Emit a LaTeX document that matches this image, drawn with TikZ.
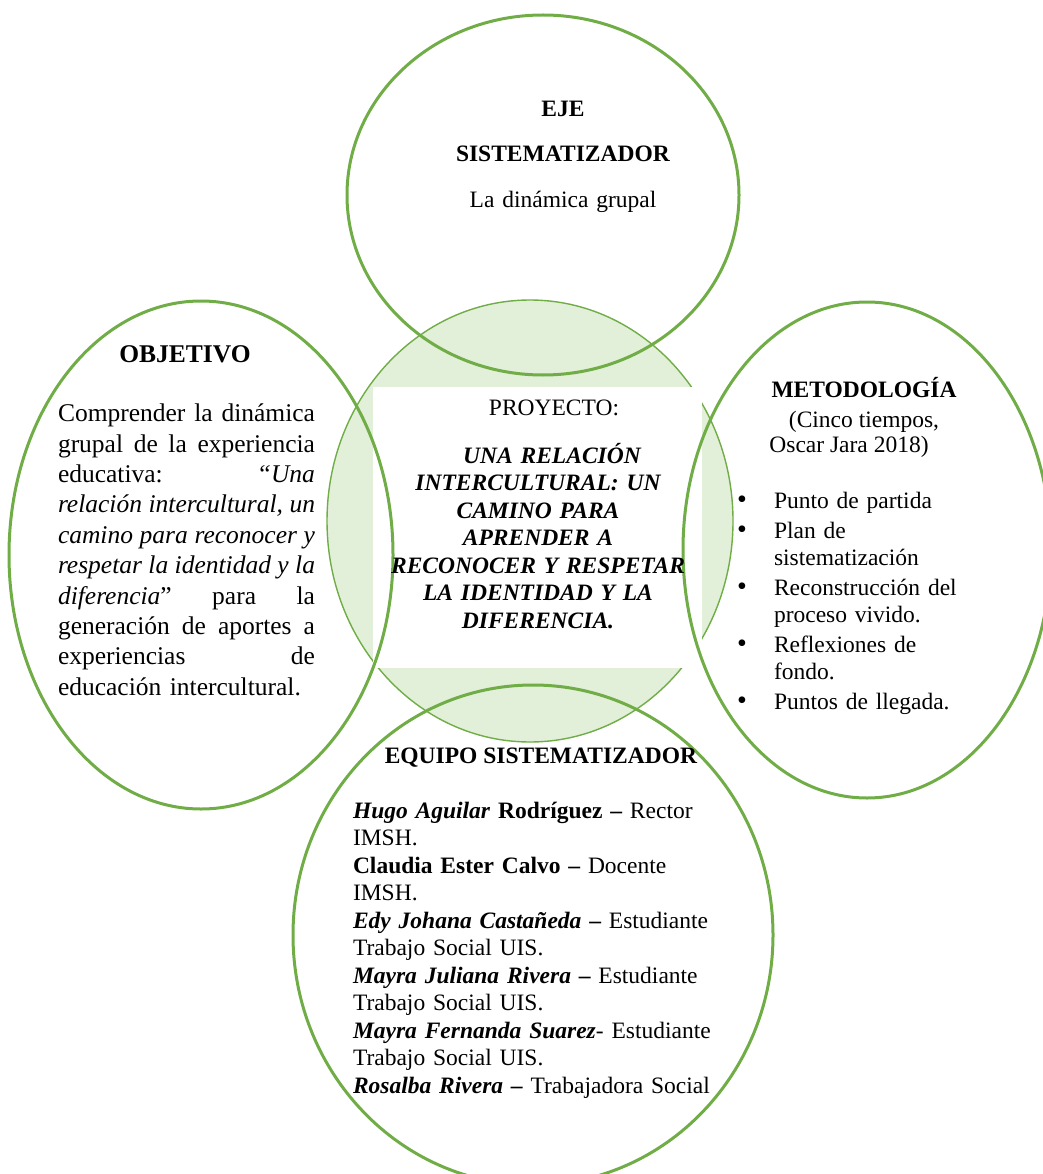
\documentclass[tikz,border=0pt]{standalone}
\usepackage{fontspec}
\setmainfont{Liberation Serif}
\usetikzlibrary{shapes.geometric}
\definecolor{lgreen}{HTML}{70AD47}
\definecolor{pgreen}{HTML}{E2EFD9}
\newcommand{\jl}[1]{\leavevmode\hbox to 257pt{#1}}
\newcommand{\gp}{\hskip 0pt plus 1fill\relax}
\newcommand{\bul}{\makebox[37pt][l]{\smash{\fontsize{28}{28}\selectfont\textbullet}}}
\begin{document}
\begin{tikzpicture}[x=1pt,y=-1pt,
  ring/.style={ellipse, draw=lgreen, line width=3pt, inner sep=0pt, outer sep=0pt},
  core/.style={ellipse, draw=lgreen, line width=1.4pt, fill=pgreen, inner sep=0pt},
  txt/.style={font=\fontsize{23.5}{27.5}\selectfont, inner sep=0pt, outer sep=0pt},
  bigtxt/.style={font=\fontsize{25.5}{30.4}\selectfont, inner sep=0pt, outer sep=0pt}]
\useasboundingbox (0,0) rectangle (1042,1174);
% central circle and white panel
\node[core, minimum width=406pt, minimum height=442pt] (core) at (530,521) {};
\node[fill=white, inner sep=0pt, minimum width=329pt, minimum height=281pt] (panel) at (537.5,527.5) {};
% outer rings
\node[ring, minimum width=392pt, minimum height=360pt] (eje) at (543,195) {};
\node[ring, minimum width=384pt, minimum height=508pt] (obj) at (201,555) {};
\node[ring, minimum width=368pt, minimum height=496pt] (met) at (867,550) {};
\node[ring, minimum width=480pt, minimum height=500pt] (equ) at (533,935) {};
% EJE SISTEMATIZADOR
\node[txt, text width=320pt, align=center, anchor=base] (ejeT) at (563,117)
  {\textbf{EJE}\\[17.5pt]\textbf{SISTEMATIZADOR}\\[18.5pt]La dinámica grupal};
% OBJETIVO
\node[bigtxt, anchor=base] (objH) at (185,362) {\textbf{OBJETIVO}};
\node[bigtxt, text width=257pt, align=left, anchor=base west] (objT) at (58,421.7)
  {\jl{Comprender\gp la\gp dinámica}\\
   \jl{grupal\gp de\gp la\gp experiencia}\\
   \jl{educativa:\gp \textit{“Una}}\\
   \jl{\itshape relación\gp intercultural,\gp un}\\
   \jl{\itshape camino\gp para\gp reconocer\gp y}\\
   \jl{\itshape respetar\gp la\gp identidad\gp y\gp la}\\
   \jl{\textit{diferencia}”\gp para\gp la}\\
   \jl{generación\gp de\gp aportes\gp a}\\
   \jl{experiencias\gp de}\\
   educación intercultural.};
% PROYECTO
\node[txt, anchor=base] (projH) at (554,415) {PROYECTO:};
\node[txt, text width=340pt, align=center, anchor=base] (projT) at (538,463)
  {\bfseries\itshape \hspace*{28pt}UNA RELACIÓN\\INTERCULTURAL: UN\\CAMINO PARA\\APRENDER A\\RECONOCER Y RESPETAR\\LA IDENTIDAD Y LA\\DIFERENCIA.};
% METODOLOGIA
\node[txt, anchor=base] (metH) at (864,397) {\textbf{METODOLOGÍA}};
\node[txt, anchor=base] (metS1) at (864,427) {(Cinco tiempos,};
\node[txt, anchor=base] (metS2) at (849,452) {Oscar Jara 2018)};
\node[txt, font=\fontsize{23.5}{26.5}\selectfont, text width=280pt, align=left, anchor=base west] (metL) at (737,508)
  {\bul Punto de partida\\[4pt]
   \bul Plan de\\
   \hspace*{37pt}sistematización\\[4pt]
   \bul Reconstrucción del\\
   \hspace*{37pt}proceso vivido.\\[4pt]
   \bul Reflexiones de\\
   \hspace*{37pt}fondo.\\[4pt]
   \bul Puntos de llegada.};
% EQUIPO SISTEMATIZADOR
\node[txt, anchor=base] (equH) at (541,763) {\textbf{EQUIPO SISTEMATIZADOR}};
\node[txt, text width=420pt, align=left, anchor=base west] (equT) at (353,818)
  {\textbf{\textit{Hugo Aguilar}} \textbf{Rodríguez –} Rector\\
   IMSH.\\
   \textbf{Claudia Ester Calvo –} Docente\\
   IMSH.\\
   \textbf{\textit{Edy Johana Castañeda}} \textbf{–} Estudiante\\
   Trabajo Social UIS.\\
   \textbf{\textit{Mayra Juliana Rivera}} \textbf{–} Estudiante\\
   Trabajo Social UIS.\\
   \textbf{\textit{Mayra Fernanda Suarez}}- Estudiante\\
   Trabajo Social UIS.\\
   \textbf{\textit{Rosalba Rivera}} \textbf{–} Trabajadora Social};
\end{tikzpicture}
\end{document}
